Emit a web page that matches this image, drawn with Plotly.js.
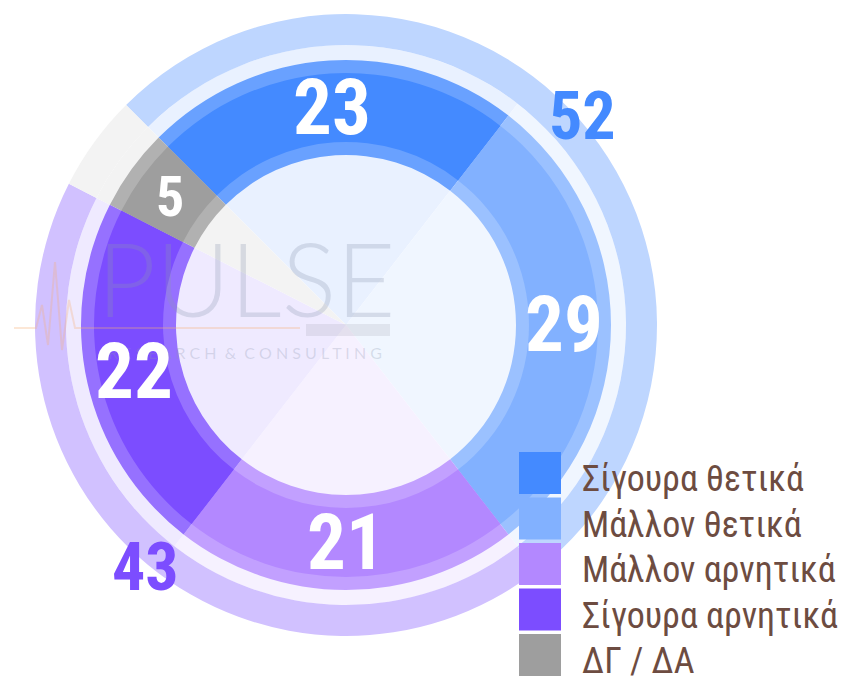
<!DOCTYPE html>
<html><head><meta charset="utf-8">
<script src="https://cdn.plot.ly/plotly-3.0.1.min.js"></script>
<style>html,body{margin:0;padding:0;background:#fff;overflow:hidden}#chart{width:841px;height:676px}</style>
</head><body><div id="chart"></div>
<script>
// ---- data ----
const categories = ['Σίγουρα θετικά', 'Μάλλον θετικά', 'Μάλλον αρνητικά', 'Σίγουρα αρνητικά', 'ΔΓ / ΔΑ'];
const values = [23, 29, 21, 22, 5];
const groupLabels = ['Θετικά', 'Αρνητικά', 'ΔΓ / ΔΑ'];
const groupValues = [52, 43, 5];
const groupShowLabel = [true, true, false];
const colors = ['#448aff', '#82b1ff', '#b388ff', '#7c4dff', '#9e9e9e'];
const groupColors = ['#448aff', '#7c4dff', '#9e9e9e'];

// ---- layout constants ----
const W = 841, H = 676, CX = 346, CY = 325, ROT = -45;
const R_OUT = 311, R_OUT_IN = 280, R_BORDER = 265, R_MAIN = 252, R_HOLE_B = 170, R_HOLE_M = 183;
const R_LAB_IN = 217.5, R_LAB_OUT = 315;

function hexToRgb(h){h=h.replace('#','');return [0,2,4].map(i=>parseInt(h.substr(i,2),16));}
function tint(h,a){const c=hexToRgb(h);return 'rgb('+c.map(v=>Math.round(255-a*(255-v))).join(',')+')';}
function lighten(h,a){const c=hexToRgb(h);return 'rgb('+c.map(v=>Math.round(v+a*(255-v))).join(',')+')';}
function dom(R){return {x:[(CX-R)/W,(CX+R)/W], y:[1-(CY+R)/H, 1-(CY-R)/H]};}
function midAngles(vals){const t=vals.reduce((a,b)=>a+b,0);let a=ROT;return vals.map(v=>{const s=a;a+=v/t*360;return (s+a)/2*Math.PI/180;});}

// font detection for a narrow face
function hasFont(f){const c=document.createElement('canvas').getContext('2d');const s='ΣίγουραθετικάABC123';
  c.font='40px monospace';const w0=c.measureText(s).width;c.font='40px "'+f+'", monospace';return c.measureText(s).width!==w0;}
const narrow = hasFont('Roboto Condensed') ? 'Roboto Condensed' : (hasFont('Liberation Sans Narrow') ? 'Liberation Sans Narrow' : null);
const FAM = narrow ? '"'+narrow+'", Roboto, sans-serif' : 'Roboto, sans-serif';
const numScale = narrow ? 1 : 0.9;
const legScale = narrow ? 1 : 0.8;

const pieBase = {type:'pie', sort:false, direction:'clockwise', rotation:ROT, textinfo:'none',
  hoverinfo:'skip', showlegend:false};

const traces = [
  Object.assign({}, pieBase, {labels:categories, values:values, domain:dom(R_OUT_IN), hole:0,
    marker:{colors:colors.map(c=>tint(c,0.12)), line:{width:0}}}),
  Object.assign({}, pieBase, {labels:groupLabels, values:groupValues, domain:dom(R_OUT), hole:R_OUT_IN/R_OUT,
    marker:{colors:groupColors.map((c,i)=>tint(c, i===2?0.12:0.35)), line:{width:0}}}),
  Object.assign({}, pieBase, {labels:categories, values:values, domain:dom(R_BORDER), hole:R_HOLE_B/R_BORDER,
    marker:{colors:colors.map(c=>lighten(c,0.2)), line:{width:0}}}),
  Object.assign({}, pieBase, {labels:categories, values:values, domain:dom(R_MAIN), hole:R_HOLE_M/R_MAIN,
    marker:{colors:colors, line:{width:0}}})
];

const shapes = [], annotations = [];

// faint watermark (under the labels)
shapes.push({type:'path', xref:'x', yref:'y', layer:'above', line:{color:'rgba(245,175,120,0.30)', width:2},
  path:'M 14 328 L 36 328 L 42 305 L 48 345 L 55 262 L 62 350 L 69 300 L 75 328 L 300 328'});
shapes.push({type:'rect', xref:'x', yref:'y', layer:'above', x0:306, x1:390, y0:324, y1:336,
  fillcolor:'rgba(120,120,135,0.14)', line:{width:0}});
annotations.push({xref:'x', yref:'y', x:246, y:277, xanchor:'center', yanchor:'middle', showarrow:false,
  text:'PULSE', font:{family:'Lato, sans-serif', weight:300, size:102, color:'rgba(140,150,175,0.28)'}});
annotations.push({xref:'x', yref:'y', x:245, y:352, xanchor:'center', yanchor:'middle', showarrow:false,
  text:'R E S E A R C H  &  C O N S U L T I N G', font:{family:'Lato, sans-serif', size:16, color:'rgba(140,150,175,0.28)'}});

// value labels at slice mid-angles
const mi = midAngles(values);
values.forEach((v,i)=>{
  annotations.push({xref:'x', yref:'y', x:CX+R_LAB_IN*Math.sin(mi[i]), y:CY-R_LAB_IN*Math.cos(mi[i]),
    xanchor:'center', yanchor:'middle', showarrow:false, text:String(v),
    font:{family:FAM, weight:'bold', color:'#ffffff', size:(v<10?56:77)*numScale}});
});
const mo = midAngles(groupValues);
groupValues.forEach((v,i)=>{
  if(!groupShowLabel[i]) return;
  annotations.push({xref:'x', yref:'y', x:CX+R_LAB_OUT*Math.sin(mo[i]), y:CY-R_LAB_OUT*Math.cos(mo[i]),
    xanchor:'center', yanchor:'middle', showarrow:false, text:String(v),
    font:{family:FAM, weight:'bold', color:groupColors[i], size:66*numScale}});
});

// legend (drawn from categories/colors)
const LX = 519, LY = 452, LS = 42, LP = 45.5;
categories.forEach((c,i)=>{
  shapes.push({type:'rect', xref:'x', yref:'y', x0:LX, x1:LX+LS, y0:LY+i*LP, y1:LY+i*LP+LS, fillcolor:colors[i], line:{width:0}, layer:'above'});
  const a = {xref:'x', yref:'y', x:580, y:LY+i*LP+LS/2+6, xanchor:'left', yanchor:'middle', showarrow:false,
    text:c, font:{family:FAM, size:36*legScale, color:'#6d4c41'}};
  if(i === categories.length-1){ a.height = 32; a.valign = 'middle'; }
  annotations.push(a);
});

const layout = {width:W, height:H, margin:{l:0,r:0,t:0,b:0}, paper_bgcolor:'#ffffff', plot_bgcolor:'rgba(0,0,0,0)',
  showlegend:false,
  xaxis:{range:[0,W], visible:false, fixedrange:true},
  yaxis:{range:[H,0], visible:false, fixedrange:true},
  shapes:shapes, annotations:annotations};

Plotly.newPlot('chart', traces, layout, {staticPlot:true, displayModeBar:false});
</script></body></html>
